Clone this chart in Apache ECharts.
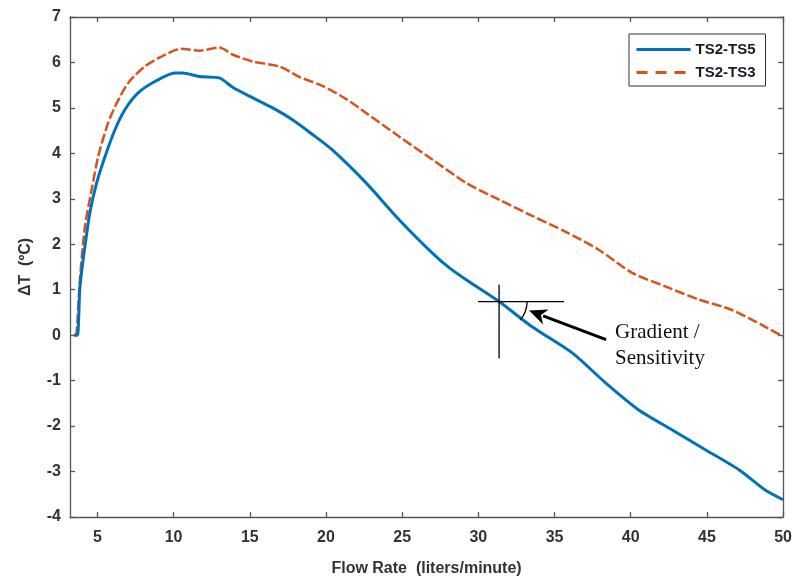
<!DOCTYPE html>
<html>
<head>
<meta charset="utf-8">
<script src="https://cdn.jsdelivr.net/npm/echarts@6/dist/echarts.min.js"></script>
<style>
  html, body { margin: 0; padding: 0; background: #fff; }
  #chart { width: 795px; height: 583px; }
</style>
</head>
<body>
<div id="chart"></div>
<script>
// Temperature difference between sensors versus flow rate
const flowTS5 = [3.45, 3.68, 3.76, 3.84, 4.0, 4.18, 4.5, 4.95, 5.5, 6.15, 6.8, 7.67, 8.77, 10.07, 10.6, 11.7, 13.0, 13.9, 15.2, 16.5, 17.8, 19.1, 20.4, 22.63, 24.8, 27.0, 28.1, 29.2, 31.36, 33.5, 36.2, 38.35, 40.5, 42.7, 44.9, 47.1, 48.8, 50.0];
const deltaTS5 = [0.0, 0.0, 0.3, 1.0, 1.5, 1.95, 2.69, 3.35, 3.93, 4.52, 4.96, 5.33, 5.58, 5.77, 5.77, 5.69, 5.66, 5.45, 5.22, 5.0, 4.74, 4.42, 4.08, 3.35, 2.54, 1.8, 1.48, 1.22, 0.74, 0.19, -0.4, -1.05, -1.64, -2.08, -2.52, -2.96, -3.4, -3.62];

const flowTS3 = [3.5, 3.62, 3.85, 4.18, 4.62, 5.05, 5.7, 6.26, 7.02, 8.1, 9.2, 10.5, 11.7, 13.0, 13.9, 15.2, 16.95, 18.26, 19.8, 21.3, 22.63, 24.8, 27.0, 29.2, 31.36, 33.5, 35.7, 37.9, 40.1, 42.3, 44.5, 46.6, 48.8, 50.0];
const deltaTS3 = [0.0, 0.02, 1.22, 2.39, 3.2, 3.93, 4.67, 5.1, 5.55, 5.91, 6.13, 6.3, 6.26, 6.33, 6.17, 6.02, 5.91, 5.68, 5.48, 5.2, 4.89, 4.37, 3.86, 3.35, 2.98, 2.63, 2.28, 1.88, 1.37, 1.07, 0.78, 0.56, 0.19, -0.03];

const seriesNames = ['TS2-TS5', 'TS2-TS3'];
const xTicks = [5, 10, 15, 20, 25, 30, 35, 40, 45, 50];
const yTicks = [-4, -3, -2, -1, 0, 1, 2, 3, 4, 5, 6, 7];

// Point on the TS2-TS5 curve where the slope is marked
const markFlow = 31.36;
const markDelta = 0.74;

const pairs = (xs, ys) => xs.map((x, i) => [x, ys[i]]);

const axisColor = '#555';
const labelFont = { fontFamily: 'Liberation Sans, Arial, sans-serif', fontSize: 16, fontWeight: 'bold', color: '#333' };

const chart = echarts.init(document.getElementById('chart'), null, { renderer: 'canvas' });

const xBase = {
  type: 'value', min: 3.2, max: 50,
  axisLine: { show: true, onZero: false, lineStyle: { color: axisColor, width: 1.3 } },
  axisTick: { show: true, inside: true, length: 5, customValues: xTicks, lineStyle: { color: axisColor, width: 1.3 } },
  splitLine: { show: false }
};
const yBase = {
  type: 'value', min: yTicks[0], max: yTicks[yTicks.length - 1], interval: 1,
  axisLine: { show: true, onZero: false, lineStyle: { color: axisColor, width: 1.3 } },
  axisTick: { show: true, inside: true, length: 5, lineStyle: { color: axisColor, width: 1.3 } },
  splitLine: { show: false }
};

chart.setOption({
  animation: false,
  backgroundColor: '#fff',
  grid: { left: 70, right: 11, top: 17, bottom: 66, containLabel: false },
  legend: {
    orient: 'vertical',
    left: 629, top: 34,
    backgroundColor: '#fff',
    borderColor: '#333', borderWidth: 1,
    padding: [8, 10, 6, 6],
    itemWidth: 54, itemHeight: 14, itemGap: 8,
    itemStyle: { opacity: 0 },
    textStyle: { fontFamily: 'Liberation Sans, Arial, sans-serif', fontSize: 15, fontWeight: 'bold', color: '#1a1a2a' },
    data: [
      { name: seriesNames[0], lineStyle: { width: 3 } },
      { name: seriesNames[1], lineStyle: { width: 3, type: [11, 8] } }
    ]
  },
  xAxis: [
    Object.assign({}, xBase, {
      position: 'bottom',
      name: 'Flow Rate  (liters/minute)', nameLocation: 'middle', nameGap: 44,
      nameTextStyle: Object.assign({}, labelFont, { fontSize: 16 }),
      axisLabel: Object.assign({ show: true, margin: 13, customValues: xTicks }, labelFont)
    }),
    Object.assign({}, xBase, { position: 'top', axisLabel: { show: false } })
  ],
  yAxis: [
    Object.assign({}, yBase, {
      position: 'left',
      name: '\u0394T  (\u00BAC)', nameLocation: 'middle', nameGap: 36,
      nameTextStyle: Object.assign({}, labelFont, { fontSize: 16 }),
      axisLabel: Object.assign({ show: true, margin: 9 }, labelFont)
    }),
    Object.assign({}, yBase, { position: 'right', axisLabel: { show: false } })
  ],
  series: [
    {
      name: seriesNames[0], type: 'line', xAxisIndex: 0, yAxisIndex: 0,
      data: pairs(flowTS5, deltaTS5),
      showSymbol: false, symbol: 'none', smooth: 0.25,
      lineStyle: { color: '#0072BD', width: 3 },
      itemStyle: { color: '#0072BD' },
      z: 3
    },
    {
      name: seriesNames[1], type: 'line', xAxisIndex: 0, yAxisIndex: 0,
      data: pairs(flowTS3, deltaTS3),
      showSymbol: false, symbol: 'none', smooth: 0.25,
      lineStyle: { color: '#D95319', width: 2.5, type: [10, 3] },
      itemStyle: { color: '#D95319' },
      z: 2
    }
  ]
});

// Gradient annotation: crosshair, angle arc, arrow and caption
const c = chart.convertToPixel({ xAxisIndex: 0, yAxisIndex: 0 }, [markFlow, markDelta]);
const cx = c[0], cy = c[1];
const tip = [cx + 30, cy + 9];
const tail = [cx + 107, cy + 38];
const ang = Math.atan2(tip[1] - tail[1], tip[0] - tail[0]);
const headLen = 18, headHalf = 8;
const base = [tip[0] - headLen * Math.cos(ang), tip[1] - headLen * Math.sin(ang)];
const px = -Math.sin(ang), py = Math.cos(ang);
const serif = 'Liberation Serif, Times New Roman, serif';

chart.setOption({
  graphic: [
    { type: 'line', shape: { x1: cx, y1: cy - 17, x2: cx, y2: cy + 57 }, style: { stroke: '#000', lineWidth: 1.3 }, z: 10 },
    { type: 'line', shape: { x1: cx - 21, y1: cy, x2: cx + 65, y2: cy }, style: { stroke: '#000', lineWidth: 1.3 }, z: 10 },
    { type: 'arc', shape: { cx: cx, cy: cy, r: 28, startAngle: 0, endAngle: 0.72, clockwise: true }, style: { stroke: '#000', lineWidth: 1.3, fill: null }, z: 10 },
    { type: 'line', shape: { x1: tail[0], y1: tail[1], x2: base[0] + 3 * Math.cos(ang), y2: base[1] + 3 * Math.sin(ang) }, style: { stroke: '#000', lineWidth: 3 }, z: 10 },
    { type: 'polygon', shape: { points: [tip, [base[0] + px * headHalf, base[1] + py * headHalf], [base[0] + 0.3 * headLen * Math.cos(ang), base[1] + 0.3 * headLen * Math.sin(ang)], [base[0] - px * headHalf, base[1] - py * headHalf]] }, style: { fill: '#000' }, z: 10 },
    { type: 'text', x: cx + 116, y: cy + 31, style: { text: 'Gradient /', font: '21px ' + serif, fill: '#111', verticalAlign: 'middle', align: 'left' }, z: 10 },
    { type: 'text', x: cx + 116, y: cy + 57, style: { text: 'Sensitivity', font: '21px ' + serif, fill: '#111', verticalAlign: 'middle', align: 'left' }, z: 10 }
  ]
});
</script>
</body>
</html>
